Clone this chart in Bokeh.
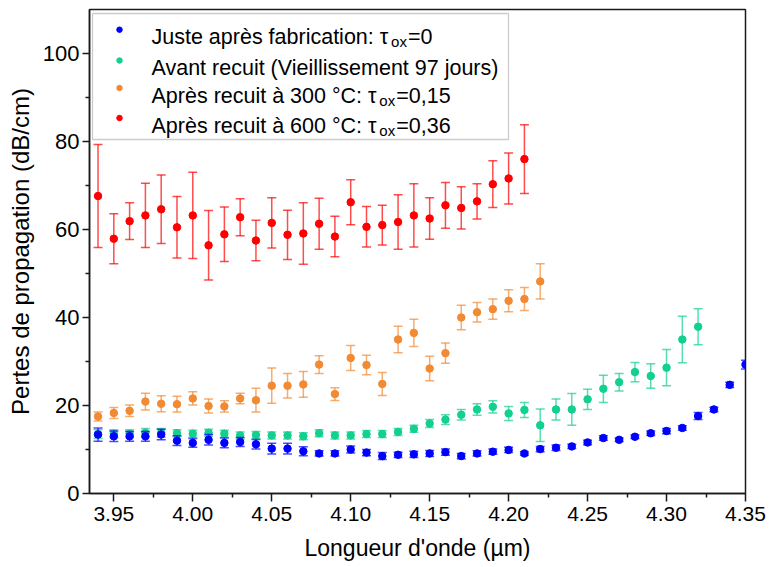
from bokeh.plotting import figure
from bokeh.models import Range1d, FixedTicker, PrintfTickFormatter, Label, BoxAnnotation
from bokeh.embed import file_html
from bokeh.resources import INLINE

# ---------------- data ----------------
wl_blue = [3.94, 3.95, 3.96, 3.97, 3.98, 3.99, 4.00, 4.01, 4.02, 4.03, 4.04, 4.05, 4.06, 4.07,
           4.08, 4.09, 4.10, 4.11, 4.12, 4.13, 4.14, 4.15, 4.16, 4.17, 4.18, 4.19, 4.20, 4.21,
           4.22, 4.23, 4.24, 4.25, 4.26, 4.27, 4.28, 4.29, 4.30, 4.31, 4.32, 4.33, 4.34, 4.35]
loss_blue = [13.4, 13.0, 13.0, 13.0, 13.4, 12.0, 11.5, 12.2, 11.5, 11.7, 11.2, 10.2, 10.2, 9.6,
             9.1, 9.1, 10.0, 9.3, 8.5, 8.8, 8.9, 9.1, 9.4, 8.5, 9.1, 9.5, 9.9, 9.1,
             10.1, 10.4, 10.7, 11.6, 12.6, 12.2, 12.9, 13.7, 14.2, 14.9, 17.6, 19.1, 24.7, 29.3]
err_blue = [1.5, 1.2, 1.1, 1.1, 1.2, 1.1, 1.0, 1.2, 1.1, 1.0, 1.1, 1.2, 1.2, 1.0,
            0.6, 0.6, 0.8, 0.7, 0.8, 0.6, 0.7, 0.7, 0.7, 0.6, 0.6, 0.6, 0.6, 0.4,
            0.6, 0.6, 0.5, 0.5, 0.5, 0.4, 0.4, 0.5, 0.6, 0.5, 0.8, 0.5, 0.6, 1.0]

wl_green = [3.94, 3.95, 3.96, 3.97, 3.98, 3.99, 4.00, 4.01, 4.02, 4.03, 4.04, 4.05, 4.06, 4.07,
            4.08, 4.09, 4.10, 4.11, 4.12, 4.13, 4.14, 4.15, 4.16, 4.17, 4.18, 4.19, 4.20, 4.21,
            4.22, 4.23, 4.24, 4.25, 4.26, 4.27, 4.28, 4.29, 4.30, 4.31, 4.32]
loss_green = [13.5, 13.6, 13.6, 13.8, 13.8, 13.7, 13.6, 13.8, 13.6, 13.2, 13.3, 13.2, 13.2, 13.0,
              13.7, 13.2, 13.2, 13.5, 13.5, 14.0, 14.7, 15.9, 16.8, 17.9, 19.1, 19.7, 18.2, 19.0,
              15.5, 19.1, 19.1, 21.4, 23.8, 25.3, 27.6, 26.7, 28.6, 35.0, 37.9]
err_green = [1.0, 0.9, 0.9, 1.0, 1.0, 0.8, 0.8, 0.8, 0.8, 0.8, 0.8, 0.8, 0.8, 0.8,
             0.8, 0.8, 0.8, 0.8, 0.8, 0.8, 0.8, 0.9, 1.1, 1.2, 1.3, 1.4, 1.6, 1.7,
             3.7, 2.4, 3.6, 2.3, 3.1, 2.0, 2.2, 2.8, 4.1, 5.3, 4.1]

wl_orange = [3.94, 3.95, 3.96, 3.97, 3.98, 3.99, 4.00, 4.01, 4.02, 4.03, 4.04, 4.05, 4.06, 4.07,
             4.08, 4.09, 4.10, 4.11, 4.12, 4.13, 4.14, 4.15, 4.16, 4.17, 4.18, 4.19, 4.20, 4.21, 4.22]
loss_orange = [17.5, 18.3, 18.8, 20.9, 20.4, 20.3, 21.6, 19.9, 19.8, 21.6, 21.2, 24.5, 24.5, 24.8,
               29.3, 22.6, 30.8, 29.2, 24.9, 35.0, 36.5, 28.4, 31.9, 40.0, 41.2, 41.9, 43.8, 44.2, 48.2]
err_orange = [1.0, 1.25, 1.3, 1.9, 1.8, 1.8, 1.5, 1.6, 1.3, 1.2, 2.7, 4.0, 2.8, 2.9,
              2.0, 1.45, 2.85, 2.2, 2.6, 3.0, 3.1, 2.8, 2.3, 2.8, 2.2, 2.3, 2.5, 2.6, 4.0]

wl_red = [3.94, 3.95, 3.96, 3.97, 3.98, 3.99, 4.00, 4.01, 4.02, 4.03, 4.04, 4.05, 4.06, 4.07,
          4.08, 4.09, 4.10, 4.11, 4.12, 4.13, 4.14, 4.15, 4.16, 4.17, 4.18, 4.19, 4.20, 4.21]
loss_red = [67.6, 57.9, 61.9, 63.2, 64.6, 60.5, 63.2, 56.4, 58.9, 62.8, 57.5, 61.5, 58.8, 59.1,
            61.3, 58.4, 66.2, 60.6, 61.0, 61.7, 63.2, 62.5, 65.5, 64.9, 66.4, 70.3, 71.6, 76.0]
err_red = [11.7, 5.7, 4.2, 7.3, 7.8, 7.0, 9.8, 7.9, 6.2, 4.2, 4.6, 5.7, 5.6, 7.0,
           5.8, 4.6, 5.1, 4.6, 4.5, 6.2, 7.2, 4.7, 5.2, 4.8, 4.0, 5.3, 5.8, 7.8]

x_ticks = [3.95, 4.00, 4.05, 4.10, 4.15, 4.20, 4.25, 4.30, 4.35]
x_minor = [3.975, 4.025, 4.075, 4.125, 4.175, 4.225, 4.275, 4.325]
y_ticks = [0, 20, 40, 60, 80, 100]
y_minor = [10, 30, 50, 70, 90]

legend_rows = [
    ("Juste après fabrication: τ", "ox", "=0"),
    ("Avant recuit (Vieillissement 97 jours)", "", ""),
    ("Après recuit à 300 °C: τ", "ox", "=0,15"),
    ("Après recuit à 600 °C: τ", "ox", "=0,36"),
]

C_BLUE, C_GREEN, C_ORANGE, C_RED = "#0000FF", "#12D08E", "#F28A33", "#FF0000"
FONT = "Liberation Sans"

X_MIN, X_MAX = 3.9346, 4.35
Y_MIN, Y_MAX = 0, 110
FW, FH = 656, 484          # frame size in px
FL, FT = 89, 9             # frame left / top in canvas px

p = figure(frame_width=FW, frame_height=FH, output_backend="svg", toolbar_location=None,
           x_range=Range1d(X_MIN, X_MAX), y_range=Range1d(Y_MIN, Y_MAX),
           min_border_left=FL, min_border_right=22, min_border_top=FT, min_border_bottom=74,
           x_axis_label="Longueur d'onde (µm)", y_axis_label="Pertes de propagation (dB/cm)")
p.grid.visible = False
p.outline_line_color = "#1a1a1a"
p.outline_line_width = 1.5
p.background_fill_color = "white"
p.border_fill_color = "white"

for ax in (p.xaxis[0], p.yaxis[0]):
    ax.axis_line_color = "#1a1a1a"
    ax.axis_line_width = 1.5
    ax.major_tick_line_color = "#1a1a1a"
    ax.minor_tick_line_color = "#1a1a1a"
    ax.major_tick_line_width = 1.5
    ax.minor_tick_line_width = 1.5
    ax.major_tick_in = 0
    ax.minor_tick_in = 0
    ax.major_label_text_font = FONT
    ax.major_label_text_color = "black"
    ax.axis_label_text_font = FONT
    ax.axis_label_text_font_style = "normal"
    ax.axis_label_text_color = "black"

p.xaxis.ticker = FixedTicker(ticks=x_ticks, minor_ticks=x_minor)
p.xaxis.formatter = PrintfTickFormatter(format="%.2f")
p.xaxis.major_tick_out = 8
p.xaxis.minor_tick_out = 4
p.xaxis.major_label_text_font_size = "21px"
p.xaxis.major_label_standoff = 5
p.xaxis.axis_label_text_font_size = "23px"
p.xaxis.axis_label_standoff = 11

p.yaxis.ticker = FixedTicker(ticks=y_ticks, minor_ticks=y_minor)
p.yaxis.formatter = PrintfTickFormatter(format="%d")
p.yaxis.major_tick_out = 7
p.yaxis.minor_tick_out = 4
p.yaxis.major_label_text_font_size = "22px"
p.yaxis.major_label_standoff = 3
p.yaxis.axis_label_text_font_size = "24px"
p.yaxis.axis_label_standoff = 6

series = [
    (wl_red, loss_red, err_red, C_RED),
    (wl_orange, loss_orange, err_orange, C_ORANGE),
    (wl_green, loss_green, err_green, C_GREEN),
    (wl_blue, loss_blue, err_blue, C_BLUE),
]
for xs, ys, es, col in series:
    lo = [y - e for y, e in zip(ys, es)]
    hi = [y + e for y, e in zip(ys, es)]
    p.segment(x0=xs, y0=lo, x1=xs, y1=hi, line_color=col, line_alpha=0.7, line_width=1.5)
    p.scatter(x=xs, y=lo, marker="dash", size=9, line_color=col, line_alpha=0.7, line_width=1.5)
    p.scatter(x=xs, y=hi, marker="dash", size=9, line_color=col, line_alpha=0.7, line_width=1.5)
    p.scatter(x=xs, y=ys, marker="circle", size=7.5, fill_color=col, line_color=col)

# ---------------- legend (pixel layout -> data coords) ----------------
def px_x(px):
    return X_MIN + (px - FL) / FW * (X_MAX - X_MIN)

def px_y(py):
    return Y_MAX - (py - FT) / FH * (Y_MAX - Y_MIN)

ARIAL_W = {' ': 278, 'J': 500, 'u': 556, 's': 500, 't': 278, 'e': 556, 'a': 556, 'p': 556,
           'r': 333, 'è': 556, 'f': 278, 'b': 556, 'i': 222, 'c': 500, 'o': 556, 'n': 556,
           ':': 278, 'A': 667, 'à': 556, '3': 556, '0': 556, '6': 556, '°': 400, 'C': 722,
           'τ': 480, 'x': 500}

def text_w(s, size):
    return sum(ARIAL_W.get(ch, 556) for ch in s) * size / 1000.0

p.add_layout(BoxAnnotation(left=px_x(92), right=px_x(508), top=px_y(13), bottom=px_y(139),
                           fill_color="white", fill_alpha=1.0, line_color="#555555",
                           line_width=1.3, level="underlay"))

LEG_SIZE, SUB_SIZE = 21.5, 15
row_base = [36.7, 67.5, 95.0, 125.0]
leg_colors = [C_BLUE, C_GREEN, C_ORANGE, C_RED]
mx, my = [], []
for (main, sub, tail), base, col in zip(legend_rows, row_base, leg_colors):
    p.add_layout(Label(x=px_x(151), y=px_y(base), text=main, text_font=FONT,
                       text_font_size=f"{LEG_SIZE}px", text_baseline="alphabetic",
                       text_align="left", text_color="black", level="annotation"))
    if sub:
        sx = 151 + text_w(main, LEG_SIZE) + 1
        p.add_layout(Label(x=px_x(sx), y=px_y(base + 4.5), text=sub, text_font=FONT,
                           text_font_size=f"{SUB_SIZE}px", text_baseline="alphabetic",
                           text_align="left", text_color="black", level="annotation"))
        tx0 = sx + text_w(sub, SUB_SIZE) + 1
        p.add_layout(Label(x=px_x(tx0), y=px_y(base), text=tail, text_font=FONT,
                           text_font_size=f"{LEG_SIZE}px", text_baseline="alphabetic",
                           text_align="left", text_color="black", level="annotation"))
    mx.append(px_x(119))
    my.append(px_y(base - 7.5))

p.scatter(x=mx, y=my, marker="circle", size=5.5, fill_color=leg_colors, line_color=leg_colors)

open("out.html", "w").write(file_html(p, INLINE))
